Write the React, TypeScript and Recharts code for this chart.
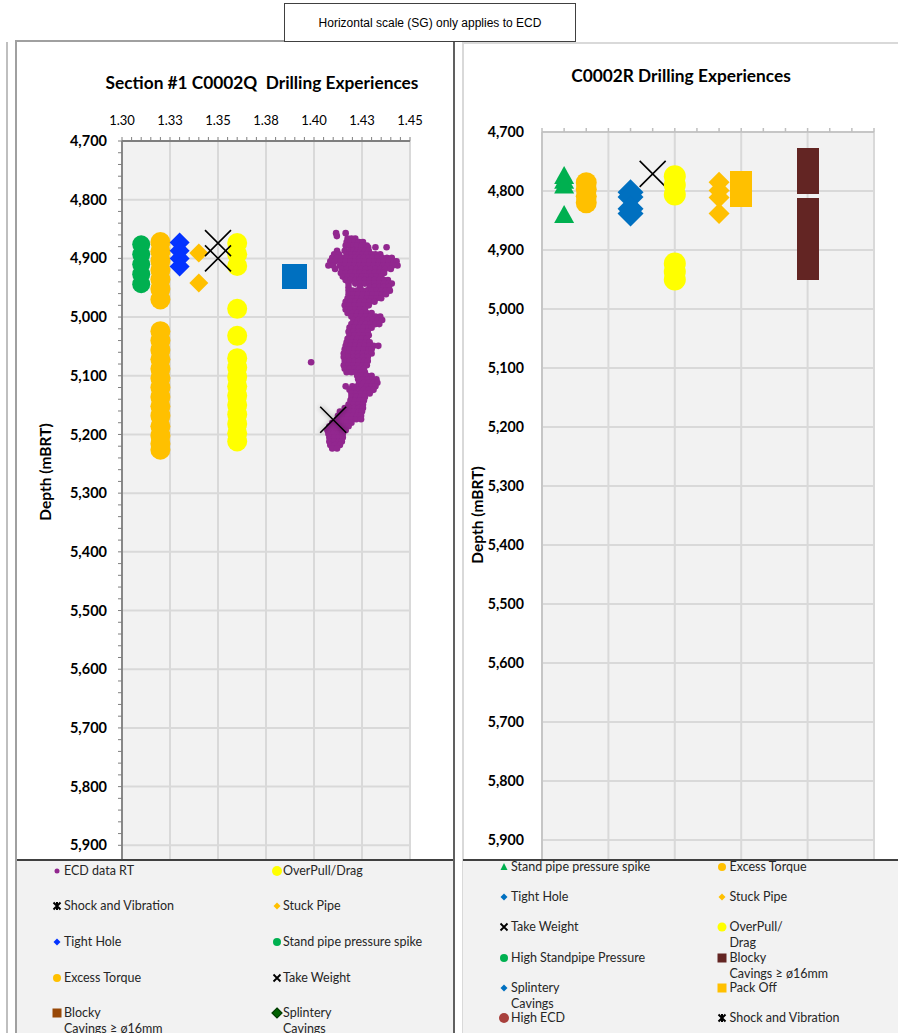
import React from "react";
import { CartesianGrid, Scatter, ScatterChart, XAxis, YAxis } from "recharts";

const FONT = "Lato, 'Open Sans', sans-serif";

// axes
const depthTicks = [4700, 4800, 4900, 5000, 5100, 5200, 5300, 5400, 5500, 5600, 5700, 5800, 5900];
const sgTicks = [1.3, 1.325, 1.35, 1.375, 1.4, 1.425, 1.45];
const sgTickLabels = ["1.30", "1.33", "1.35", "1.38", "1.40", "1.43", "1.45"];
const columnTicks = [0, 3, 6, 9, 12, 15];

// C0002Q events (SG column, depths mBRT)
const qSpikeSg = 1.31;
const qSpikeDepths = [4876, 4893, 4910, 4927, 4944];
const qTorqueSg = 1.32;
const qTorqueDepths = [4872, 4888, 4904, 4920, 4936, 4952, 4970, 5024, 5040, 5056, 5072, 5088, 5104, 5120, 5136, 5152, 5168, 5186, 5202, 5216, 5226];
const qTightSg = 1.33;
const qTightDepths = [4873, 4887, 4900, 4914];
const qStuckSg = 1.34;
const qStuckDepths = [4891, 4942];
const qTakeWeightSg = 1.35;
const qTakeWeightDepths = [4874, 4900];
const qOverpullSg = 1.36;
const qOverpullDepths = [4874, 4893, 4913, 4986, 5032, 5070, 5086, 5102, 5118, 5134, 5150, 5166, 5182, 5198, 5212];
const qPackOffSg = 1.39;
const qPackOffDepths = [4931];
const qShockSg = 1.41;
const qShockDepths = [5175];

// ECD log: depth, then the SG readings at that depth
const ecdLog: [number, number[]][] = [
  [4857, [1.4115, 1.4165]],
  [4862, [1.4119]],
  [4866, [1.4175, 1.4195, 1.4215]],
  [4872, [1.417, 1.419, 1.421, 1.4235, 1.4255]],
  [4878, [1.4165, 1.4185, 1.4205, 1.4225, 1.425, 1.4275]],
  [4881, [1.4282, 1.432, 1.4378]],
  [4887, [1.412, 1.416, 1.4185, 1.4205, 1.4225, 1.4245, 1.4265, 1.4285]],
  [4893, [1.4105, 1.413, 1.417, 1.4195, 1.4215, 1.4235, 1.4255, 1.4275, 1.43, 1.432, 1.4345]],
  [4899, [1.4095, 1.412, 1.4145, 1.417, 1.4195, 1.4215, 1.424, 1.426, 1.4285, 1.4305, 1.433, 1.4355, 1.438, 1.4405]],
  [4905, [1.4085, 1.411, 1.414, 1.4165, 1.419, 1.4215, 1.424, 1.4265, 1.429, 1.4315, 1.434, 1.4365, 1.439, 1.4415, 1.443]],
  [4912, [1.4075, 1.41, 1.4135, 1.416, 1.4185, 1.421, 1.4235, 1.426, 1.4285, 1.431, 1.4335, 1.436, 1.4385, 1.441, 1.4435]],
  [4918, [1.411, 1.4145, 1.417, 1.4195, 1.422, 1.4245, 1.427, 1.4295, 1.432, 1.4345, 1.437, 1.44]],
  [4925, [1.414, 1.4165, 1.419, 1.4215, 1.424, 1.4265, 1.429, 1.4315, 1.434, 1.4365]],
  [4931, [1.415, 1.4175, 1.42, 1.4225, 1.425, 1.4275, 1.43, 1.4325, 1.435]],
  [4937, [1.4165, 1.419, 1.4215, 1.424, 1.4265, 1.429, 1.4315, 1.434, 1.4365, 1.4385]],
  [4943, [1.418, 1.4215, 1.424, 1.4265, 1.429, 1.4315, 1.434, 1.4365, 1.439, 1.4405]],
  [4949, [1.418, 1.424, 1.429, 1.4315, 1.434, 1.4365, 1.439]],
  [4955, [1.418, 1.42, 1.4225, 1.425, 1.4275, 1.43, 1.4325, 1.435, 1.4375, 1.4395]],
  [4961, [1.418, 1.4205, 1.423, 1.4255, 1.428, 1.4305, 1.433, 1.4355, 1.4375]],
  [4968, [1.4175, 1.42, 1.4225, 1.425, 1.4275, 1.43, 1.4325, 1.435]],
  [4974, [1.4165, 1.419, 1.4215, 1.424, 1.4265, 1.429, 1.4315]],
  [4980, [1.416, 1.4185, 1.421, 1.4235, 1.426, 1.4285]],
  [4987, [1.4165, 1.419, 1.4215, 1.424, 1.4265]],
  [4993, [1.4175, 1.42, 1.4225, 1.425, 1.4275, 1.43]],
  [4999, [1.4195, 1.422, 1.4245, 1.427, 1.4295, 1.432, 1.4345]],
  [5005, [1.4205, 1.423, 1.4255, 1.428, 1.4305, 1.433, 1.4355]],
  [5012, [1.4195, 1.422, 1.4245, 1.427, 1.4295, 1.432, 1.434]],
  [5018, [1.4185, 1.421, 1.4235, 1.426, 1.4285, 1.43]],
  [5025, [1.418, 1.4205, 1.423, 1.4255, 1.428]],
  [5031, [1.4185, 1.421, 1.4235, 1.426, 1.4285]],
  [5037, [1.4175, 1.42, 1.4225, 1.425, 1.4275]],
  [5043, [1.417, 1.4195, 1.422, 1.4245, 1.427, 1.429]],
  [5049, [1.4165, 1.419, 1.4215, 1.424, 1.4265, 1.429, 1.431, 1.4335]],
  [5055, [1.416, 1.4185, 1.421, 1.4235, 1.426, 1.4285, 1.43]],
  [5062, [1.4155, 1.418, 1.4205, 1.423, 1.4255, 1.428, 1.43]],
  [5068, [1.4155, 1.418, 1.4205, 1.423, 1.4255, 1.428]],
  [5075, [1.416, 1.4185, 1.421, 1.4235, 1.426, 1.428]],
  [5077, [1.3985]],
  [5082, [1.4155, 1.418, 1.4205, 1.423, 1.4255, 1.4275]],
  [5088, [1.416, 1.4185, 1.421, 1.4235, 1.426]],
  [5094, [1.417, 1.4195, 1.422, 1.4245, 1.4265]],
  [5100, [1.4225, 1.425, 1.4275, 1.43]],
  [5106, [1.423, 1.4255, 1.428, 1.4305, 1.4325]],
  [5112, [1.4235, 1.426, 1.4285, 1.431, 1.433]],
  [5118, [1.4165, 1.42, 1.4225, 1.425, 1.4275, 1.43, 1.432]],
  [5124, [1.4185, 1.421, 1.4235, 1.426, 1.4285, 1.431]],
  [5130, [1.4195, 1.422, 1.4245, 1.427, 1.429]],
  [5136, [1.4195, 1.422, 1.4245, 1.4265]],
  [5142, [1.419, 1.4215, 1.424, 1.426]],
  [5149, [1.418, 1.4205, 1.423, 1.4255]],
  [5155, [1.416, 1.4185, 1.421, 1.4235, 1.4255]],
  [5161, [1.4135, 1.416, 1.4185, 1.421, 1.4235, 1.425]],
  [5168, [1.4125, 1.415, 1.4175, 1.42, 1.4225, 1.4245]],
  [5174, [1.412, 1.4145, 1.417, 1.4195, 1.422, 1.4245]],
  [5180, [1.4095, 1.412, 1.4145, 1.417, 1.4195]],
  [5186, [1.408, 1.4105, 1.413, 1.4155, 1.418]],
  [5193, [1.407, 1.4095, 1.412, 1.4145, 1.4165]],
  [5199, [1.4075, 1.41, 1.4125, 1.415]],
  [5205, [1.408, 1.4105, 1.413, 1.415]],
  [5212, [1.408, 1.4105, 1.413, 1.4145]],
  [5218, [1.4085, 1.411, 1.4135]],
  [5224, [1.4095, 1.412]],
];

// C0002R events (column, depths mBRT)
const rSpikeCol = 1;
const rSpikeDepths = [4773, 4781, 4789, 4839];
const rTorqueCol = 2;
const rTorqueDepths = [4786, 4797, 4809, 4820];
const rTightCol = 4;
const rTightDepths = [4802, 4810, 4830, 4838];
const rTakeWeightCol = 5;
const rTakeWeightDepths = [4771];
const rOverpullCol = 6;
const rOverpullDepths = [4775, 4790, 4806, 4923, 4937, 4950];
const rStuckCol = 8;
const rStuckDepths = [4785, 4799, 4811, 4838];
const rPackOffCol = 9;
const rPackOffDepths = [4785, 4809];
const rBlockyCol = 12;
const rBlockyDepths = [4746, 4767, 4787, 4831, 4865, 4899, 4933];

const GREEN = "#00b050";
const ORANGE = "#ffc000";
const YELLOW = "#ffff00";
const BLUE = "#0070c0";
const BRIGHT_BLUE = "#0433ff";
const PURPLE = "#92278f";
const MAROON = "#632523";

const subdivide = (major: number[], parts: number) =>
  major.flatMap((v, i) =>
    i === major.length - 1 ? [v] : Array.from({ length: parts }, (_, k) => v + ((major[i + 1] - v) * k) / parts)
  );

const depthMinorTicks = subdivide(depthTicks, 5);
const sgMinorTicks = subdivide(sgTicks, 5);
const columnMinorTicks = subdivide(columnTicks, 3);

const atSg = (sg: number, depths: number[]) => depths.map((depth) => ({ sg, depth }));
const ecdPoints = ecdLog.flatMap(([depth, sgs]) => sgs.map((sg) => ({ sg, depth })));

// marker shapes
type P = { cx?: number; cy?: number };
const circleShape = (r: number, fill: string) => (p: P) => <circle cx={p.cx} cy={p.cy} r={r} fill={fill} />;
const diamondShape = (h: number, fill: string) => (p: P) => {
  const { cx = 0, cy = 0 } = p;
  return <path d={`M${cx} ${cy - h}L${cx + h} ${cy}L${cx} ${cy + h}L${cx - h} ${cy}Z`} fill={fill} />;
};
const squareShape = (s: number, fill: string) => (p: P) => {
  const { cx = 0, cy = 0 } = p;
  return <rect x={cx - s / 2} y={cy - s / 2} width={s} height={s} fill={fill} shapeRendering="crispEdges" />;
};
const triangleShape = (w: number, h: number, fill: string) => (p: P) => {
  const { cx = 0, cy = 0 } = p;
  return <path d={`M${cx} ${cy - h / 2}L${cx + w / 2} ${cy + h / 2}L${cx - w / 2} ${cy + h / 2}Z`} fill={fill} />;
};
const crossShape = (h: number, glow = false) => (p: P) => {
  const { cx = 0, cy = 0 } = p;
  return (
    <g>
      {glow && (
        <defs>
          <filter id="xGlow" x="-60%" y="-60%" width="220%" height="220%">
            <feDropShadow dx="0" dy="0" stdDeviation="2.5" floodColor="#000" floodOpacity="0.45" />
          </filter>
        </defs>
      )}
      <path
        d={`M${cx - h} ${cy - h}L${cx + h} ${cy + h}M${cx + h} ${cy - h}L${cx - h} ${cy + h}`}
        stroke="#000"
        strokeWidth={1.6}
        filter={glow ? "url(#xGlow)" : undefined}
      />
    </g>
  );
};

const sameTick = (a: number, b: number) => Math.abs(a - b) < 1e-9;

function SgTick(props: any) {
  const { x, y, payload } = props;
  const idx = sgTicks.findIndex((t) => sameTick(t, payload.value));
  return (
    <g>
      <line x1={x} y1={y} x2={x} y2={y - 4} stroke="#7f7f7f" />
      {idx >= 0 && (
        <text x={x} y={y - 21} dy="0.35em" textAnchor="middle" fontSize={13} fill="#000" fontFamily={FONT}>
          {sgTickLabels[idx]}
        </text>
      )}
    </g>
  );
}

function DepthTickQ(props: any) {
  const { x, y, payload } = props;
  const major = depthTicks.some((t) => sameTick(t, payload.value));
  return (
    <g>
      <line x1={x} y1={y} x2={x - 4} y2={y} stroke="#7f7f7f" />
      {major && (
        <text x={x - 15} y={y} dy="0.35em" textAnchor="end" fontSize={14.5} fontWeight={700} fill="#000" fontFamily={FONT}>
          {payload.value.toLocaleString("en-US")}
        </text>
      )}
    </g>
  );
}

function DepthTickR(props: any) {
  const { x, y, payload } = props;
  return (
    <text x={x - 18} y={y} dy="0.35em" textAnchor="end" fontSize={14.2} fontWeight={700} fill="#000" fontFamily={FONT}>
      {payload.value.toLocaleString("en-US")}
    </text>
  );
}

function ColumnTick(props: any) {
  const { x, y } = props;
  return <line x1={x} y1={y} x2={x} y2={y - 4} stroke="#bfbfbf" strokeWidth={1.5} />;
}

function C0002QChart() {
  return (
    <ScatterChart width={438} height={863} margin={{ top: 70, right: 44, bottom: 0, left: 0 }}>
      <CartesianGrid
        fill="#f2f2f2"
        stroke="#d9d9d9"
        strokeWidth={2}
        horizontalValues={depthTicks}
        verticalValues={sgTicks}
      />
      <XAxis
        dataKey="sg"
        type="number"
        orientation="top"
        height={30}
        domain={[1.3, 1.45]}
        ticks={sgMinorTicks}
        interval={0}
        tickSize={0}
        tickMargin={0}
        tickLine={false}
        tick={<SgTick />}
        axisLine={{ stroke: "#7f7f7f", strokeWidth: 1.8 }}
        allowDataOverflow
      />
      <YAxis
        dataKey="depth"
        type="number"
        reversed
        width={106}
        domain={[4700, 6000]}
        ticks={depthMinorTicks}
        interval={0}
        tickSize={0}
        tickMargin={0}
        tickLine={false}
        tick={<DepthTickQ />}
        axisLine={{ stroke: "#7f7f7f", strokeWidth: 1.8 }}
        allowDataOverflow
      />
      <YAxis yAxisId="edge" orientation="right" width={0} domain={[0, 1]} tick={false} tickLine={false} axisLine={{ stroke: "#000", strokeWidth: 2 }} />
      <Scatter name="ECD data RT" data={ecdPoints} shape={circleShape(3.3, PURPLE)} isAnimationActive={false} />
      <Scatter name="Stand pipe pressure spike" data={atSg(qSpikeSg, qSpikeDepths)} shape={circleShape(9, GREEN)} isAnimationActive={false} />
      <Scatter name="Excess Torque" data={atSg(qTorqueSg, qTorqueDepths)} shape={circleShape(10, ORANGE)} isAnimationActive={false} />
      <Scatter name="Tight Hole" data={atSg(qTightSg, qTightDepths)} shape={diamondShape(10, BRIGHT_BLUE)} isAnimationActive={false} />
      <Scatter name="Stuck Pipe" data={atSg(qStuckSg, qStuckDepths)} shape={diamondShape(9.5, ORANGE)} isAnimationActive={false} />
      <Scatter name="OverPull/Drag" data={atSg(qOverpullSg, qOverpullDepths)} shape={circleShape(10, YELLOW)} isAnimationActive={false} />
      <Scatter name="Take Weight" data={atSg(qTakeWeightSg, qTakeWeightDepths)} shape={crossShape(13)} isAnimationActive={false} />
      <Scatter name="Pack Off" data={atSg(qPackOffSg, qPackOffDepths)} shape={squareShape(25, BLUE)} isAnimationActive={false} />
      <Scatter name="Shock and Vibration" data={atSg(qShockSg, qShockDepths)} shape={crossShape(13, true)} isAnimationActive={false} />
    </ScatterChart>
  );
}

function C0002RChart() {
  return (
    <ScatterChart width={435} height={856} margin={{ top: 59, right: 24, bottom: 0, left: 0 }}>
      <CartesianGrid
        fill="#f2f2f2"
        stroke="#d9d9d9"
        strokeWidth={2}
        horizontalValues={depthTicks}
        verticalValues={columnTicks}
      />
      <XAxis
        dataKey="sg"
        type="number"
        orientation="top"
        height={30}
        domain={[0, 15]}
        ticks={columnMinorTicks}
        interval={0}
        tickSize={0}
        tickMargin={0}
        tickLine={false}
        tick={<ColumnTick />}
        axisLine={{ stroke: "#bfbfbf", strokeWidth: 1.5 }}
      />
      <YAxis
        dataKey="depth"
        type="number"
        reversed
        width={79}
        domain={[4700, 6000]}
        ticks={depthTicks}
        interval={0}
        tickSize={0}
        tickMargin={0}
        tickLine={false}
        tick={<DepthTickR />}
        axisLine={{ stroke: "#bfbfbf", strokeWidth: 1.5 }}
      />
      <Scatter name="Stand pipe pressure spike" data={atSg(rSpikeCol, rSpikeDepths)} shape={triangleShape(20, 18, GREEN)} isAnimationActive={false} />
      <Scatter name="Excess Torque" data={atSg(rTorqueCol, rTorqueDepths)} shape={circleShape(10.5, ORANGE)} isAnimationActive={false} />
      <Scatter name="Tight Hole" data={atSg(rTightCol, rTightDepths)} shape={diamondShape(13, BLUE)} isAnimationActive={false} />
      <Scatter name="Take Weight" data={atSg(rTakeWeightCol, rTakeWeightDepths)} shape={crossShape(13)} isAnimationActive={false} />
      <Scatter name="OverPull/Drag" data={atSg(rOverpullCol, rOverpullDepths)} shape={circleShape(11, YELLOW)} isAnimationActive={false} />
      <Scatter name="Stuck Pipe" data={atSg(rStuckCol, rStuckDepths)} shape={diamondShape(10.5, ORANGE)} isAnimationActive={false} />
      <Scatter name="Pack Off" data={atSg(rPackOffCol, rPackOffDepths)} shape={squareShape(22, ORANGE)} isAnimationActive={false} />
      <Scatter name="Blocky Cavings" data={atSg(rBlockyCol, rBlockyDepths)} shape={squareShape(22, MAROON)} isAnimationActive={false} />
    </ScatterChart>
  );
}

// legend keys
const keyDot = (r: number, fill: string) => <circle cx={7} cy={7} r={r} fill={fill} />;
const keyDiamond = (h: number, fill: string, stroke?: string) => (
  <path d={`M7 ${7 - h}L${7 + h} 7L7 ${7 + h}L${7 - h} 7Z`} fill={fill} stroke={stroke} strokeWidth={stroke ? 1.2 : 0} />
);
const keySquare = (s: number, fill: string) => <rect x={7 - s / 2} y={7 - s / 2} width={s} height={s} fill={fill} />;
const keyTriangle = <path d="M7 3L10.5 10L3.5 10Z" fill={GREEN} />;
const keyCross = <path d="M3.5 3.5L10.5 10.5M10.5 3.5L3.5 10.5" stroke="#000" strokeWidth={1.8} />;
const keyShock = <path d="M3.5 3.5L10.5 10.5M10.5 3.5L3.5 10.5M7 3L7 11" stroke="#000" strokeWidth={2} />;

type LegendEntry = { label: string; key: React.ReactNode };

const qLegend: LegendEntry[][] = [
  [{ label: "ECD data RT", key: keyDot(2.5, PURPLE) }, { label: "OverPull/Drag", key: keyDot(5, YELLOW) }],
  [{ label: "Shock and Vibration", key: keyShock }, { label: "Stuck Pipe", key: keyDiamond(3.5, ORANGE) }],
  [{ label: "Tight Hole", key: keyDiamond(3.5, BRIGHT_BLUE) }, { label: "Stand pipe pressure spike", key: keyDot(4, GREEN) }],
  [{ label: "Excess Torque", key: keyDot(4, ORANGE) }, { label: "Take Weight", key: keyCross }],
  [
    { label: "Blocky\nCavings \u2265 \u00f816mm", key: keySquare(9, "#984807") },
    { label: "Splintery\nCavings", key: keyDiamond(5, "#006100", "#003a00") },
  ],
];

const rLegend: LegendEntry[][] = [
  [{ label: "Stand pipe pressure spike", key: keyTriangle }, { label: "Excess Torque", key: keyDot(4, ORANGE) }],
  [{ label: "Tight Hole", key: keyDiamond(3.5, BLUE) }, { label: "Stuck Pipe", key: keyDiamond(3.5, ORANGE) }],
  [{ label: "Take Weight", key: keyCross }, { label: "OverPull/\nDrag", key: keyDot(4.5, YELLOW) }],
  [{ label: "High Standpipe Pressure", key: keyDot(4, GREEN) }, { label: "Blocky\nCavings \u2265 \u00f816mm", key: keySquare(9, MAROON) }],
  [{ label: "Splintery\nCavings", key: keyDiamond(3.5, BLUE) }, { label: "Pack Off", key: keySquare(9, ORANGE) }],
  [{ label: "High ECD", key: keyDot(5, "#a8403c") }, { label: "Shock and Vibration", key: keyShock }],
];

function LegendBox(props: {
  left: number;
  width: number;
  rows: LegendEntry[][];
  rowY: number[];
  keyX: number[];
  textX: number[];
}) {
  const { left, width, rows, rowY, keyX, textX } = props;
  return (
    <>
      <div
        style={{
          position: "absolute",
          left,
          top: 859,
          width,
          height: 1033 - 859,
          background: "#f2f2f2",
          borderTop: "2px solid #404040",
          boxSizing: "border-box",
        }}
      />
      {rows.map((row, r) =>
        row.map((entry, c) => (
          <React.Fragment key={`${r}-${c}`}>
            <svg width={14} height={14} style={{ position: "absolute", left: keyX[c] - 7, top: rowY[r] - 7 }}>
              {entry.key}
            </svg>
            <div
              style={{
                position: "absolute",
                left: textX[c],
                top: rowY[r] - 8,
                lineHeight: "16px",
                fontSize: 12.5,
                fontFamily: FONT,
                color: "#262626",
                whiteSpace: "pre",
              }}
            >
              {entry.label}
            </div>
          </React.Fragment>
        ))
      )}
    </>
  );
}

export default function App() {
  return (
    <div style={{ position: "absolute", left: 0, top: 0, width: 898, height: 1033, overflow: "hidden", background: "#fff" }}>
      {/* edge of the neighbouring panel */}
      <div style={{ position: "absolute", left: 6, top: 42, width: 2, height: 991, background: "#bfbfbf" }} />
      {/* panel frames */}
      <div
        style={{
          position: "absolute",
          left: 15,
          top: 40,
          width: 440,
          height: 1000,
          border: "2px solid #a0a0a0",
          borderRightColor: "#606060",
          boxSizing: "border-box",
        }}
      />
      <div
        style={{
          position: "absolute",
          left: 462,
          top: 42,
          width: 500,
          height: 1000,
          border: "2px solid #d9d9d9",
          boxSizing: "border-box",
        }}
      />

      <div style={{ position: "absolute", left: 16, top: 41 }}>
        <C0002QChart />
      </div>
      <div style={{ position: "absolute", left: 463, top: 43 }}>
        <C0002RChart />
      </div>

      <LegendBox left={17} width={436} rows={qLegend} rowY={[871, 906, 942, 978, 1013]} keyX={[57, 276.5]} textX={[64, 283]} />
      <LegendBox left={463} width={435} rows={rLegend} rowY={[867, 897, 927, 958, 988, 1018]} keyX={[504, 722]} textX={[511, 729.5]} />

      <svg width={898} height={1033} style={{ position: "absolute", left: 0, top: 0, pointerEvents: "none" }}>
        <text x={262} y={83} dy="0.35em" textAnchor="middle" fontSize={17.3} fontWeight={700} fill="#000" fontFamily={FONT} style={{ whiteSpace: "pre" }}>
          {"Section #1 C0002Q  Drilling Experiences"}
        </text>
        <text x={681} y={76} dy="0.35em" textAnchor="middle" fontSize={17.3} fontWeight={700} fill="#000" fontFamily={FONT}>
          C0002R Drilling Experiences
        </text>
        <text transform="translate(46 472) rotate(-90)" dy="0.35em" textAnchor="middle" fontSize={15.5} fontWeight={700} fill="#000" fontFamily={FONT}>
          Depth (mBRT)
        </text>
        <text transform="translate(478 515) rotate(-90)" dy="0.35em" textAnchor="middle" fontSize={15.5} fontWeight={700} fill="#000" fontFamily={FONT}>
          Depth (mBRT)
        </text>
      </svg>

      <div
        style={{
          position: "absolute",
          left: 284,
          top: 3,
          width: 292,
          height: 39,
          border: "1px solid #404040",
          boxSizing: "border-box",
          background: "#fff",
          display: "flex",
          alignItems: "center",
          justifyContent: "center",
          fontFamily: "'Liberation Sans', Arial, sans-serif",
          fontSize: 12,
          color: "#000",
        }}
      >
        Horizontal scale (SG) only applies to ECD
      </div>
    </div>
  );
}
